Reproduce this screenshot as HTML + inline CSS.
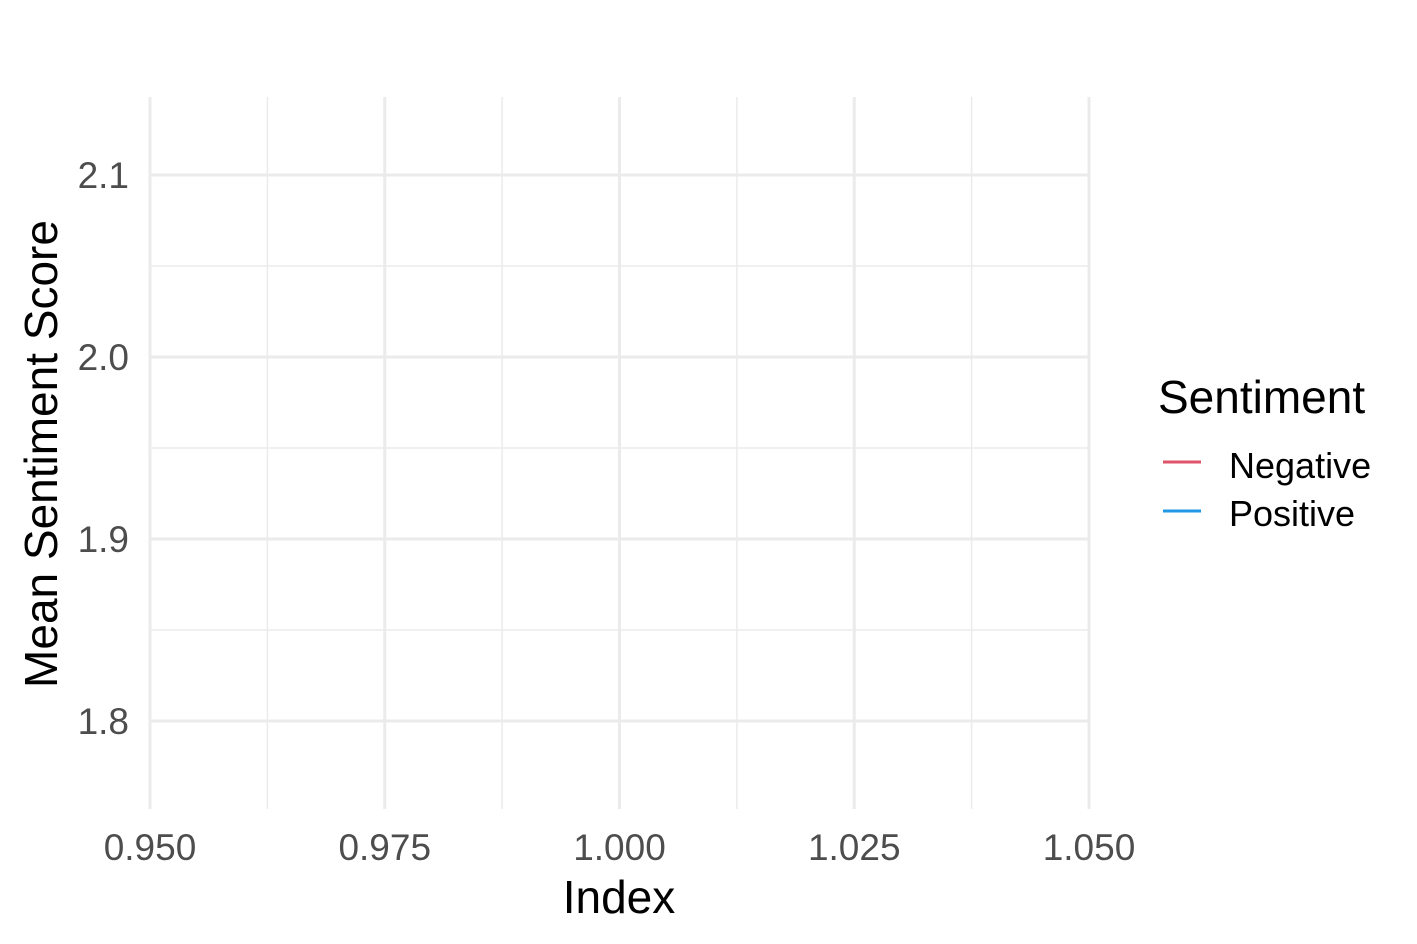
<!DOCTYPE html>
<html><head><meta charset="utf-8"><style>
body{margin:0;background:#fff;}
svg{display:block;font-family:"Liberation Sans",Arial,sans-serif;}
</style></head><body>
<svg id="chart" width="1417" height="944" xmlns="http://www.w3.org/2000/svg">
<g id="grid"></g>
<g id="series"></g>
<g id="ticks"></g>
<text x="619" y="913" font-size="46" text-anchor="middle" fill="#000">Index</text>
<text transform="translate(57,454) rotate(-90)" font-size="46" text-anchor="middle" fill="#000">Mean Sentiment Score</text>
<g>
<text x="1158" y="413" font-size="46" fill="#000">Sentiment</text>
<g>
<line x1="1163" y1="462" x2="1201" y2="462" stroke="#DF536B" stroke-width="3"/>
<text x="1229" y="478" font-size="36" fill="#000">Negative</text></g>
<g>
<line x1="1163" y1="511" x2="1201" y2="511" stroke="#2297E6" stroke-width="3"/>
<text x="1229" y="526" font-size="36" fill="#000">Positive</text></g>
</g>
</svg>
<script>
const xTicks=[0.950,0.975,1.000,1.025,1.050];
const xTickLabels=["0.950","0.975","1.000","1.025","1.050"];
const yTicks=[1.8,1.9,2.0,2.1];
const yTickLabels=["1.8","1.9","2.0","2.1"];
const negIndex=[1];
const negValues=[1.95];
const posIndex=[1];
const posValues=[1.95];
const NS="http://www.w3.org/2000/svg";
const X=v=>150+(v-0.95)/0.1*939;
const Y=v=>721-(v-1.8)/0.1*182;
const grid=document.getElementById('grid'),ticks=document.getElementById('ticks'),series=document.getElementById('series');
function mk(tag,attrs,parent){const e=document.createElementNS(NS,tag);for(const k in attrs)e.setAttribute(k,attrs[k]);parent.appendChild(e);return e;}
for(let i=0;i<xTicks.length-1;i++){const m=(xTicks[i]+xTicks[i+1])/2;
const l=mk('line',{x1:X(m),x2:X(m),y1:97,y2:809,stroke:'#ebebeb','stroke-width':1.5},grid);
}
for(let i=0;i<yTicks.length-1;i++){const m=(yTicks[i]+yTicks[i+1])/2;
const l=mk('line',{x1:150,x2:1089,y1:Y(m),y2:Y(m),stroke:'#ebebeb','stroke-width':1.5},grid);
}
xTicks.forEach((v,i)=>{const l=mk('line',{x1:X(v),x2:X(v),y1:97,y2:809,stroke:'#ebebeb','stroke-width':3},grid);

const t=mk('text',{x:X(v),y:860,'font-size':37,'text-anchor':'middle',fill:'#4d4d4d'},ticks);t.textContent=xTickLabels[i];
});
yTicks.forEach((v,i)=>{const l=mk('line',{x1:150,x2:1089,y1:Y(v),y2:Y(v),stroke:'#ebebeb','stroke-width':3},grid);

const t=mk('text',{x:129,y:Y(v)+13,'font-size':37,'text-anchor':'end',fill:'#4d4d4d'},ticks);t.textContent=yTickLabels[i];
});
function path(xs,ys,color,name){let d='';xs.forEach((x,i)=>{d+=(i?'L':'M')+X(x)+' '+Y(ys[i]);});
const p=mk('path',{d:d,fill:'none',stroke:color,'stroke-width':3},series);
}
path(negIndex,negValues,'#DF536B','negative-line');
path(posIndex,posValues,'#2297E6','positive-line');
</script>
</body></html>
